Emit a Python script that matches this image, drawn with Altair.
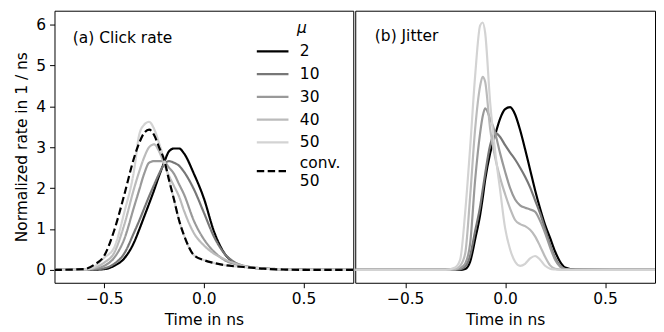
import altair as alt
import pandas as pd

FONT = "DejaVu Sans"
FS = 15.6

series_names = ["2", "10", "30", "40", "50", "conv. 50"]
series_colors = ["#000000", "#777777", "#999999", "#bbbbbb", "#d3d3d3", "#000000"]
series_dashes = [[1, 0], [1, 0], [1, 0], [1, 0], [1, 0], [7.5, 3.5]]

# (a) Click rate
t_click = [-0.75, -0.6, -0.55, -0.5, -0.45, -0.4, -0.35, -0.325, -0.3, -0.275, -0.25, -0.225,
           -0.2, -0.175, -0.15, -0.125, -0.1, -0.05, 0.0, 0.05, 0.1, 0.15, 0.2, 0.25, 0.3,
           0.4, 0.5, 0.75]
click_mu2 = [0, 0, 0.005, 0.02, 0.1, 0.28, 0.68, 0.98, 1.3, 1.62, 1.95, 2.3, 2.62, 2.9, 2.97,
             2.97, 2.85, 2.35, 1.75, 0.95, 0.43, 0.18, 0.09, 0.05, 0.03, 0.01, 0.005, 0]
click_mu10 = [0, 0, 0.01, 0.04, 0.15, 0.4, 0.92, 1.2, 1.5, 1.8, 2.08, 2.35, 2.58, 2.66, 2.62,
              2.55, 2.4, 1.97, 1.4, 0.82, 0.42, 0.2, 0.1, 0.06, 0.04, 0.015, 0.005, 0]
click_mu30 = [0, 0.005, 0.03, 0.1, 0.3, 0.75, 1.55, 1.95, 2.35, 2.62, 2.66, 2.66, 2.65, 2.5,
              2.35, 2.1, 1.85, 1.2, 0.75, 0.45, 0.25, 0.15, 0.09, 0.05, 0.03, 0.01, 0, 0]
click_mu40 = [0, 0.01, 0.05, 0.18, 0.42, 1.1, 2.0, 2.4, 2.75, 3.0, 3.07, 2.9, 2.6, 2.3, 2.05,
              1.8, 1.45, 0.9, 0.6, 0.4, 0.27, 0.17, 0.1, 0.06, 0.03, 0.01, 0, 0]
click_mu50 = [0, 0.01, 0.08, 0.3, 0.55, 1.4, 2.45, 3.3, 3.55, 3.62, 3.45, 3.1, 2.7, 2.2, 1.72,
              1.22, 0.85, 0.36, 0.24, 0.17, 0.12, 0.09, 0.07, 0.05, 0.03, 0.01, 0, 0]
click_conv50 = [0, 0.02, 0.13, 0.35, 0.97, 1.83, 2.75, 3.1, 3.35, 3.43, 3.3, 3.0, 2.7, 2.2, 1.72,
                1.22, 0.85, 0.36, 0.24, 0.17, 0.12, 0.09, 0.07, 0.05, 0.03, 0.01, 0, 0]

# (b) Jitter
t_jitter = [-0.75, -0.3, -0.25, -0.225, -0.2, -0.175, -0.15, -0.125, -0.1125, -0.1, -0.075,
            -0.05, -0.025, 0.0, 0.025, 0.05, 0.075, 0.1, 0.125, 0.15, 0.175, 0.2, 0.225, 0.25,
            0.275, 0.3, 0.35, 0.75]
jit_mu2 = [0, 0, 0, 0, 0.02, 0.2, 0.75, 1.35, 1.75, 2.2, 2.85, 3.3, 3.7, 3.93, 3.98, 3.8, 3.42,
           2.95, 2.45, 1.95, 1.5, 1.1, 0.78, 0.45, 0.2, 0.06, 0.005, 0]
jit_mu10 = [0, 0, 0, 0.01, 0.08, 0.35, 0.95, 1.55, 1.95, 2.35, 3.05, 3.35, 3.25, 3.05, 2.87, 2.7,
            2.5, 2.28, 2.02, 1.7, 1.38, 1.0, 0.62, 0.3, 0.1, 0.02, 0, 0]
jit_mu30 = [0, 0, 0.01, 0.04, 0.15, 0.65, 2.2, 3.35, 3.75, 3.95, 3.7, 3.35, 2.85, 2.4, 2.0, 1.72,
            1.58, 1.52, 1.48, 1.42, 1.2, 0.9, 0.55, 0.25, 0.08, 0.02, 0, 0]
jit_mu40 = [0, 0, 0.02, 0.1, 0.4, 1.8, 3.45, 4.5, 4.72, 4.6, 3.45, 2.75, 2.25, 1.85, 1.5, 1.22,
            1.12, 1.07, 0.98, 0.82, 0.58, 0.32, 0.11, 0.03, 0.01, 0, 0, 0]
jit_mu50 = [0, 0, 0.06, 0.25, 1.4, 3.0, 4.75, 5.98, 6.05, 5.8, 4.1, 2.9, 1.95, 1.02, 0.5, 0.2,
            0.1, 0.15, 0.28, 0.34, 0.25, 0.1, 0.03, 0.01, 0, 0, 0, 0]

panel_labels = ["(a) Click rate", "(b) Jitter"]
panel_label_t = [-0.658, -0.652]
panel_label_v = [5.68, 5.72]

x_ticks = [-0.5, 0.0, 0.5]
y_ticks = [0, 1, 2, 3, 4, 5, 6]
x_domain = [-0.75, 0.75]
y_domain = [-0.315, 6.339]


def long_frame(t, columns):
    rows = []
    for name, vals in columns:
        for tt, vv in zip(t, vals):
            rows.append({"t": tt, "v": vv, "series": name})
    return pd.DataFrame(rows)


df_click = long_frame(t_click, [("2", click_mu2), ("10", click_mu10), ("30", click_mu30),
                                ("40", click_mu40), ("50", click_mu50),
                                ("conv. 50", click_conv50)])
df_jit = long_frame(t_jitter, [("2", jit_mu2), ("10", jit_mu10), ("30", jit_mu30),
                               ("40", jit_mu40), ("50", jit_mu50)])
df_lab_a = pd.DataFrame({"t": panel_label_t[:1], "v": panel_label_v[:1], "txt": panel_labels[:1]})
df_lab_b = pd.DataFrame({"t": panel_label_t[1:], "v": panel_label_v[1:], "txt": panel_labels[1:]})

xscale = alt.Scale(domain=x_domain, nice=False, zero=False)
yscale = alt.Scale(domain=y_domain, nice=False, zero=False)

x_axis = alt.Axis(values=x_ticks, title="Time in ns", titlePadding=6,
                  labelExpr="replace(format(datum.value, '.1f'), '-', '\u2212')")
y_axis = alt.Axis(values=y_ticks, title="Normalized rate in 1 / ns", titlePadding=6,
                  format="d")

legend_cfg = alt.Legend(
    title="\u03bc", orient="none", legendX=211, legendY=11, direction="vertical",
    symbolType="M-2,0L2,0", symbolSize=256, symbolStrokeWidth=2.2,
    labelOffset=18, rowPadding=4, titleFontStyle="italic", titleAnchor="middle",
    titlePadding=5, padding=0,
    labelExpr="datum.label == 'conv. 50' ? ['conv.', '50'] : datum.label",
    labelBaseline={"expr": "datum.label == 'conv. 50' ? 'bottom' : 'middle'"},
    labelFontSize=FS, titleFontSize=FS, labelFont=FONT, titleFont=FONT,
    titleFontWeight="normal", labelColor="black", titleColor="black",
)

W = 302
H = 275

left_lines = alt.Chart(df_click).mark_line(strokeWidth=2.2, clip=True, interpolate="monotone").encode(
    x=alt.X("t:Q", scale=xscale, axis=x_axis),
    y=alt.Y("v:Q", scale=yscale, axis=y_axis),
    color=alt.Color("series:N", scale=alt.Scale(domain=series_names, range=series_colors),
                    legend=legend_cfg),
    strokeDash=alt.StrokeDash("series:N", scale=alt.Scale(domain=series_names, range=series_dashes),
                              legend=legend_cfg),
)
left_text = alt.Chart(df_lab_a).mark_text(align="left", baseline="middle", fontSize=FS,
                                           font=FONT, color="black").encode(
    x=alt.X("t:Q", scale=xscale), y=alt.Y("v:Q", scale=yscale), text="txt:N")
left = alt.layer(left_lines, left_text).properties(width=W, height=H)

right_lines = alt.Chart(df_jit).mark_line(strokeWidth=2.2, clip=True, interpolate="monotone").encode(
    x=alt.X("t:Q", scale=xscale, axis=x_axis),
    y=alt.Y("v:Q", scale=yscale, axis=None),
    color=alt.Color("series:N", scale=alt.Scale(domain=series_names[:5], range=series_colors[:5]),
                    legend=None),
)
right_text = alt.Chart(df_lab_b).mark_text(align="left", baseline="middle", fontSize=FS,
                                            font=FONT, color="black").encode(
    x=alt.X("t:Q", scale=xscale), y=alt.Y("v:Q", scale=yscale, axis=None), text="txt:N")
right = alt.layer(right_lines, right_text).properties(width=W + 1, height=H)

chart = alt.hconcat(left, right, spacing=0).resolve_scale(
    color="independent", strokeDash="independent"
).resolve_legend(color="independent", strokeDash="independent").properties(
    padding={"left": 6, "top": 0, "right": 0, "bottom": 0}
).configure_view(stroke="black", strokeWidth=1).configure_axis(
    grid=False, domain=False, labelFont=FONT, titleFont=FONT, labelFontSize=FS, titleFontSize=FS,
    tickColor="black", labelColor="black", titleColor="black", tickSize=5, labelPadding=4,
    titleFontWeight="normal", tickWidth=1
)

chart.save("out.html", embed_options={"renderer": "svg", "actions": False})
